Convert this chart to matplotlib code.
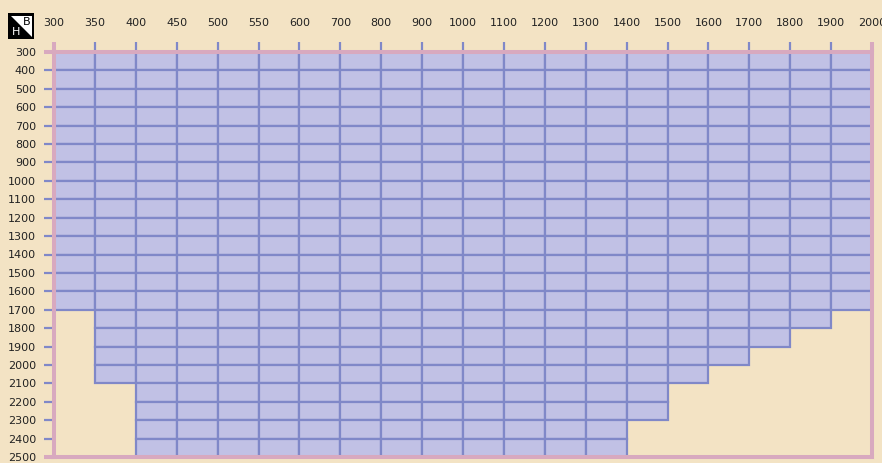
import matplotlib.pyplot as plt
from matplotlib.patches import Polygon

# widths B (column boundaries) and heights H (row boundaries)
b_labels = [300, 350, 400, 450, 500, 550, 600, 700, 800, 900, 1000,
            1100, 1200, 1300, 1400, 1500, 1600, 1700, 1800, 1900, 2000]
h_labels = [300, 400, 500, 600, 700, 800, 900, 1000, 1100, 1200, 1300, 1400,
            1500, 1600, 1700, 1800, 1900, 2000, 2100, 2200, 2300, 2400, 2500]
# max height available for each width column (column starts at b_labels[i])
max_h = [1700, 2100, 2500, 2500, 2500, 2500, 2500, 2500, 2500, 2500,
         2500, 2500, 2500, 2500, 2300, 2100, 2000, 1900, 1800, 1700]

bg = "#f3e3c4"
fill = "#c1c1e5"
line = "#8088c8"
border = "#d8a9bf"

fig = plt.figure(figsize=(8.82, 4.63), dpi=100, facecolor=bg)
ax = fig.add_axes([54 / 882, 1 - 457 / 463, 818 / 882, 405 / 463])
ax.set_facecolor(bg)

for i, h in enumerate(max_h):
    depth = h_labels.index(h)
    for r in range(depth):
        ax.bar(i, 1, bottom=r, width=1, align="edge", color=fill,
               edgecolor=line, linewidth=1.6, zorder=2)

ax.set_xlim(0, len(b_labels) - 1)
ax.set_ylim(len(h_labels) - 1, 0)

ax.xaxis.tick_top()
ax.set_xticks(range(len(b_labels)))
ax.set_xticklabels([str(v) for v in b_labels])
ax.set_yticks(range(len(h_labels)))
ax.set_yticklabels([str(v) for v in h_labels])
ax.tick_params(axis="x", direction="out", length=7, width=1.6, color=line,
               pad=10, labelsize=8, labelcolor="#222222")
ax.tick_params(axis="y", direction="out", length=7, width=1.6, color=line,
               pad=6, labelsize=8, labelcolor="#222222")

# outer ticks continue the border
for t in [ax.xaxis.get_major_ticks()[0], ax.xaxis.get_major_ticks()[-1]]:
    t.tick2line.set_markeredgecolor(border)
    t.tick2line.set_markeredgewidth(2.9)
for t in [ax.yaxis.get_major_ticks()[0], ax.yaxis.get_major_ticks()[-1]]:
    t.tick1line.set_markeredgecolor(border)
    t.tick1line.set_markeredgewidth(2.9)

for s in ax.spines.values():
    s.set_color(border)
    s.set_linewidth(2.9)
    s.set_zorder(3)

# corner icon
ic = fig.add_axes([8 / 882, 1 - 39 / 463, 26 / 882, 26 / 463])
ic.set_xlim(0, 1)
ic.set_ylim(0, 1)
ic.axis("off")
ic.add_patch(Polygon([(0, 0), (1, 0), (1, 1), (0, 1)], closed=True,
                     facecolor="black", edgecolor="none"))
ic.add_patch(Polygon([(0.1, 0.9), (0.92, 0.9), (0.92, 0.08)], closed=True,
                     facecolor="white", edgecolor="none"))
ic.text(0.7, 0.64, "B", fontsize=8, color="black", ha="center", va="center")
ic.text(0.3, 0.27, "H", fontsize=8, color="white", ha="center", va="center")

fig.savefig("out.png", dpi=100, facecolor=bg)
